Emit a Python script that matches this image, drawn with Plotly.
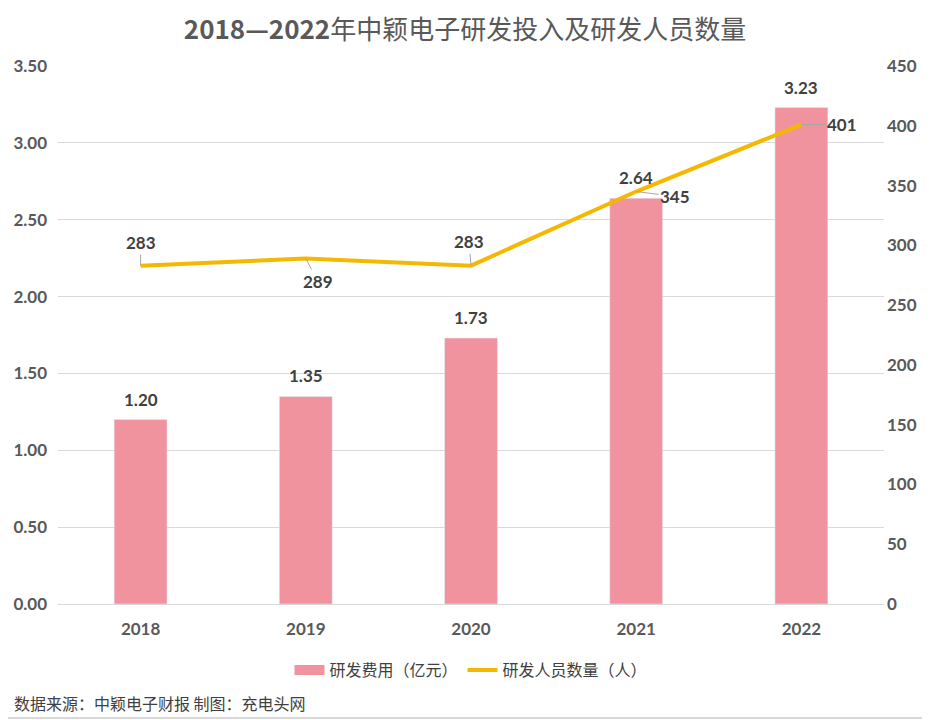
import plotly.graph_objects as go

years = ["2018", "2019", "2020", "2021", "2022"]
rd_cost = [1.20, 1.35, 1.73, 2.64, 3.23]
rd_staff = [283, 289, 283, 345, 401]
# label offsets (px) for the staff labels, like the leader lines in the source
staff_label_offsets = [(0, -23), (12, 23), (-2, -24), (39, 5), (41, 0)]

BAR = "#F0939E"
LINE = "#F5B800"
TXT = "#404040"
TICK = "#595959"
FONT = "Lato, 'Noto Sans CJK SC', sans-serif"
CJK = "'Noto Sans CJK SC', sans-serif"

fig = go.Figure()
fig.add_trace(go.Bar(
    x=years, y=rd_cost, name="研发费用（亿元）", marker_color=BAR, width=0.32,
    showlegend=False,
))
# legend-only entry so the bar key is a wide block like the original
fig.add_trace(go.Scatter(
    x=[None], y=[None], name="研发费用（亿元）", mode="lines",
    line=dict(color=BAR, width=10),
))
fig.add_trace(go.Scatter(
    x=years, y=rd_staff, name="研发人员数量（人）", mode="lines",
    line=dict(color=LINE, width=4), yaxis="y2",
))

for i, v in enumerate(rd_cost):
    fig.add_annotation(
        x=i, y=v, xref="x", yref="y", text=f"<b>{v:.2f}</b>", showarrow=False,
        yanchor="bottom", yshift=8, font=dict(size=17, color=TXT, family=FONT),
    )

for i, (v, (ax, ay)) in enumerate(zip(rd_staff, staff_label_offsets)):
    fig.add_annotation(
        x=i, y=v, xref="x", yref="y2", text=f"<b>{v}</b>", showarrow=True, arrowhead=0,
        arrowwidth=1, arrowcolor="#A6A6A6", ax=ax, ay=ay, standoff=0,
        font=dict(size=17, color=TXT, family=FONT),
    )

fig.add_annotation(
    xref="paper", yref="paper", x=-0.056, y=-0.184, xanchor="left", yanchor="middle",
    text="数据来源：中颖电子财报 制图：充电头网", showarrow=False,
    font=dict(size=16, color=TXT, family=CJK),
)

# right and bottom edges of the picture frame
fig.add_shape(type="line", xref="paper", yref="paper", x0=1.0533, x1=1.0533,
              y0=-0.2119, y1=1.2, line=dict(color="#D9D9D9", width=2))
fig.add_shape(type="line", xref="paper", yref="paper", x0=-0.1, x1=1.0533,
              y0=-0.2119, y1=-0.2119, line=dict(color="#D9D9D9", width=2))

# page body adds an 8px offset, so the figure is 8px smaller and margins shifted
fig.update_layout(
    width=922, height=712,
    margin=dict(l=50, r=46, t=58, b=116),
    paper_bgcolor="white", plot_bgcolor="white",
    font=dict(family=FONT, color=TXT),
    title=dict(
        text="<b>2018—2022</b>年中颖电子研发投入及研发人员数量",
        x=457 / 922, xanchor="center", xref="container", y=1 - 22 / 712, yanchor="middle",
        font=dict(size=26, color=TICK, family=CJK),
    ),
    showlegend=True,
    legend=dict(orientation="h", x=0.5, xanchor="center", y=-0.123, yanchor="middle",
                font=dict(size=16, color=TXT, family=CJK),
                itemwidth=30, tracegroupgap=0),
    xaxis=dict(type="category", categoryorder="array", categoryarray=years,
               range=[-0.5, 4.5], showline=True, linecolor="#D9D9D9", linewidth=1, ticks="",
               tickfont=dict(size=17, color=TICK, weight="bold"), ticklabelstandoff=10,
               automargin=False),
    yaxis=dict(range=[0, 3.5], dtick=0.5, tickformat=".2f", gridcolor="#D9D9D9",
               zeroline=False, tickfont=dict(size=17, color=TICK, weight="bold"),
               ticklabelstandoff=10, automargin=False),
    yaxis2=dict(range=[0, 450], dtick=50, overlaying="y", side="right", showgrid=False,
                zeroline=False, tickfont=dict(size=17, color=TICK, weight="bold"),
                ticklabelstandoff=2, automargin=False),
)

fig.write_html("out.html")
